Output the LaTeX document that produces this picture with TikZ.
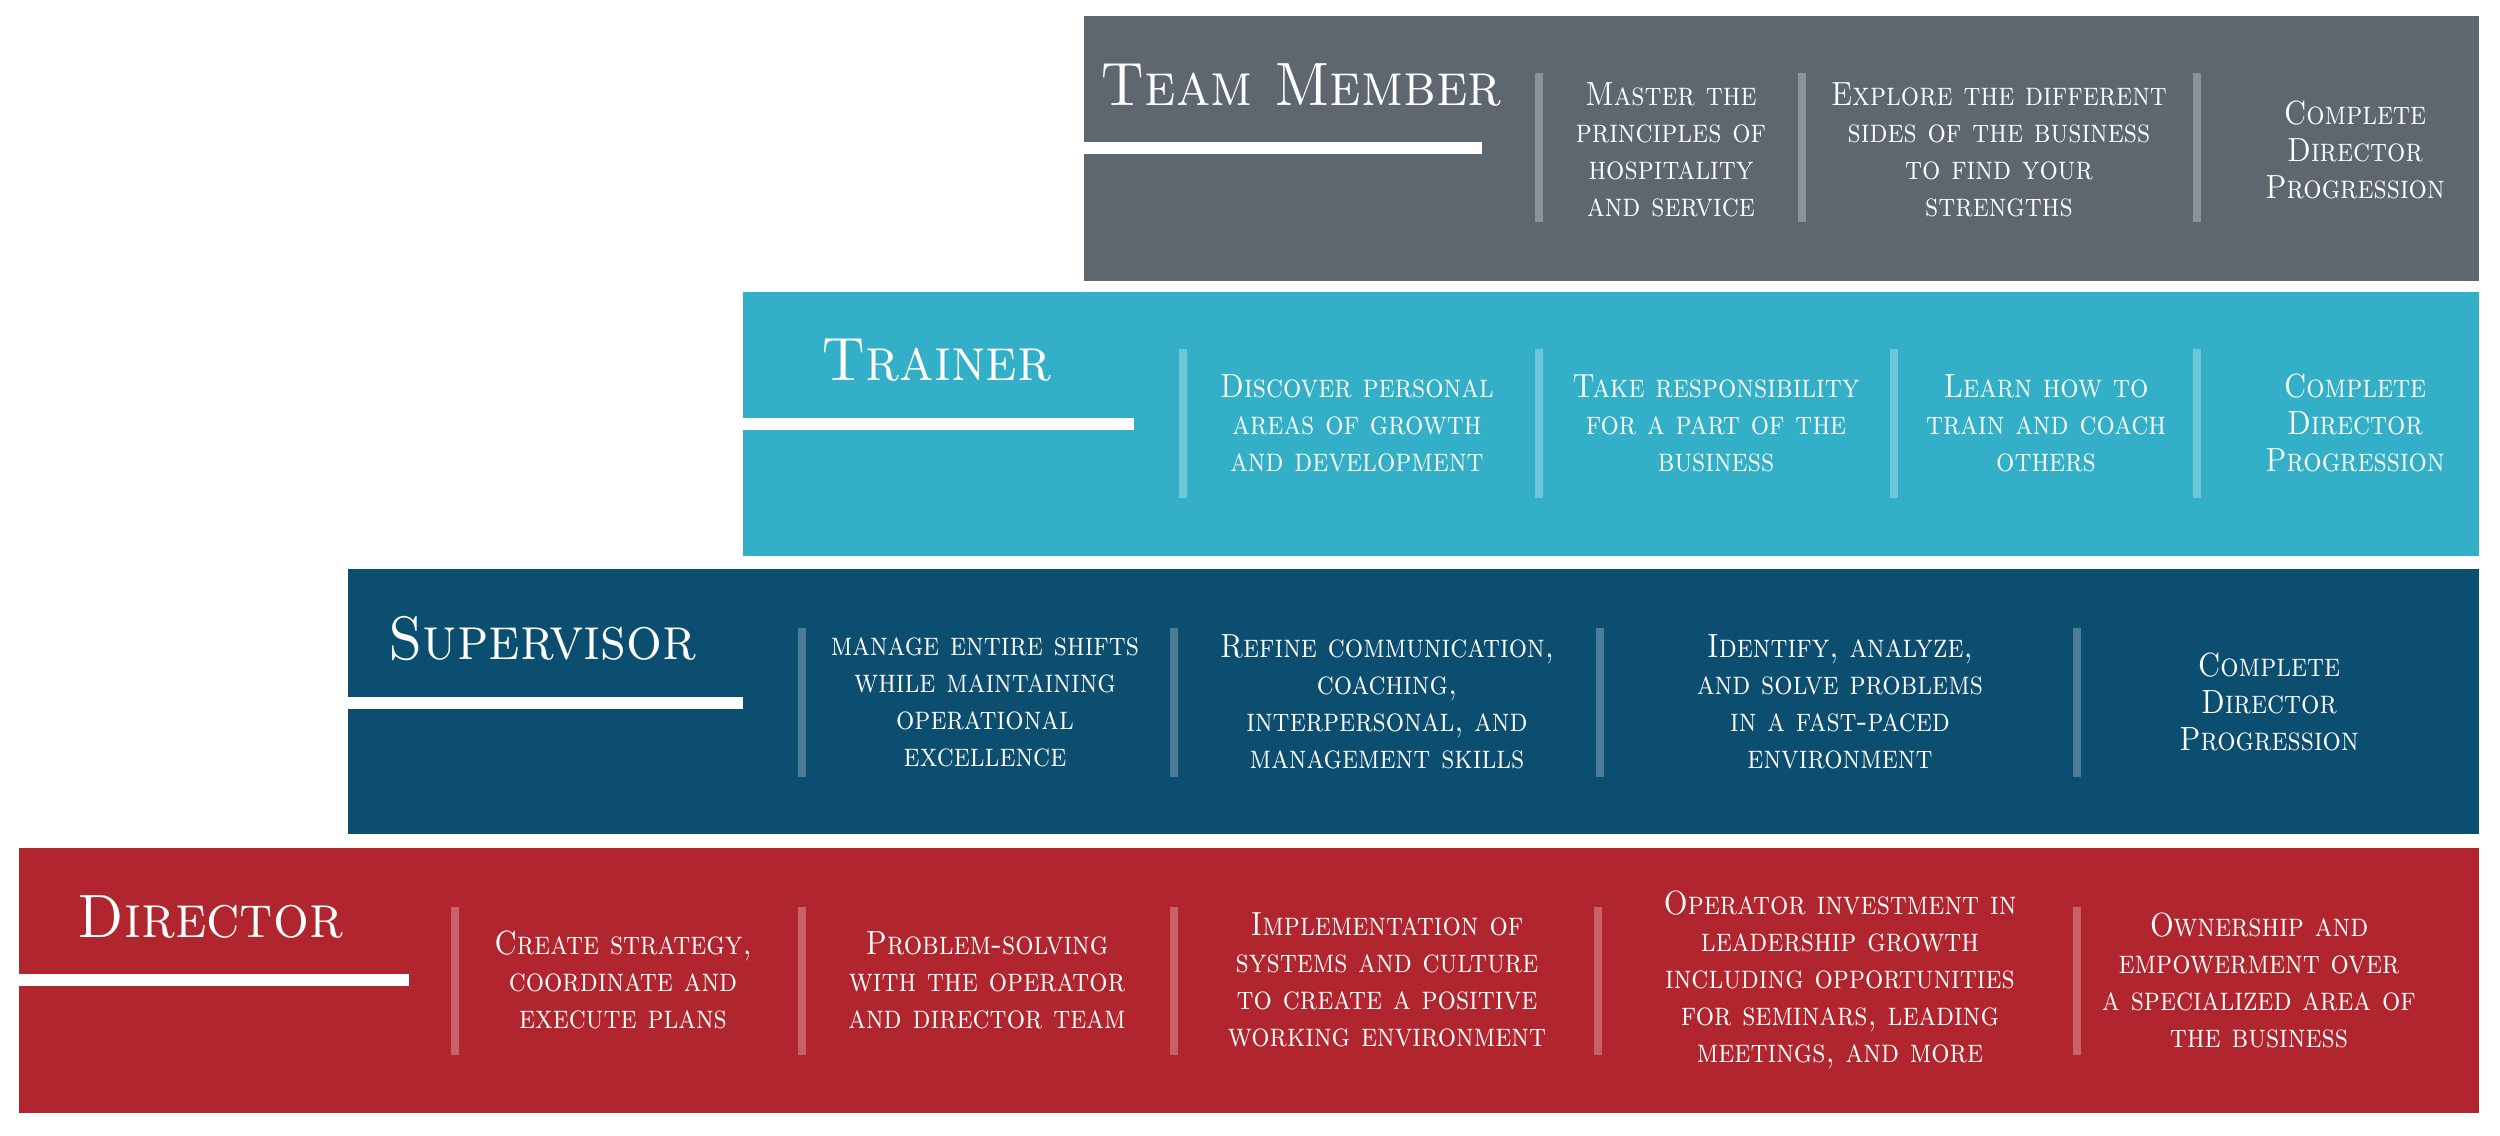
\documentclass[tikz,border=0pt]{standalone}
\usepackage{fontspec}
\newfontfamily\bodysc{lmromancaps10-regular.otf}[FakeStretch=0.86]
\newfontfamily\titlesc{lmromancaps10-regular.otf}[FakeStretch=0.92]
\definecolor{tmc}{RGB}{94,102,112}
\definecolor{tmsep}{RGB}{139,146,154}
\definecolor{trc}{RGB}{51,175,200}
\definecolor{trsep}{RGB}{110,198,216}
\definecolor{svc}{RGB}{12,78,112}
\definecolor{svsep}{RGB}{76,124,150}
\definecolor{drc}{RGB}{177,38,46}
\definecolor{drsep}{RGB}{200,98,104}
\begin{document}
\begin{tikzpicture}[x=0.4pt,y=-0.4pt,
  ttl/.style={anchor=base west, inner sep=0pt, text=white, font=\titlesc\fontsize{24.5}{28}\selectfont},
  txt/.style={anchor=center, align=center, inner sep=0pt, text=white, font=\bodysc\fontsize{13.4}{14.8}\selectfont},
  sepbar/.style={line width=3.2pt}]
\useasboundingbox (0,0) rectangle (2500,1135);
% boxes
\fill[tmc] (1084,16) rectangle (2479,281);
\fill[trc] (743,292) rectangle (2479,556);
\fill[svc] (348,569) rectangle (2479,834);
\fill[drc] (19,848) rectangle (2479,1113);
% white bars
\fill[white] (1084,142) rectangle (1482,154);
\fill[white] (743,418) rectangle (1134,430);
\fill[white] (348,697) rectangle (743,709);
\fill[white] (19,974) rectangle (409,986);
% titles
\node[ttl] (tmt) at (1100,105) {Team Member};
\node[ttl] (trt) at (821,380) {Trainer};
\node[ttl] (svt) at (388,659) {Supervisor};
\node[ttl] (drt) at (77,937) {Director};
% separators
\foreach \x in {1539,1802,2197} \draw[sepbar,tmsep] (\x,73) -- (\x,222);
\foreach \x in {1183,1539,1894,2197} \draw[sepbar,trsep] (\x,349) -- (\x,498);
\foreach \x in {802,1174,1600,2077} \draw[sepbar,svsep] (\x,628) -- (\x,777);
\foreach \x in {455,802,1174,1598,2077} \draw[sepbar,drsep] (\x,907) -- (\x,1055);
% team member texts
\node[txt] (tm1) at (1671,150) {Master the\\principles of\\hospitality\\and service};
\node[txt] (tm2) at (1999,150) {Explore the different\\sides of the business\\to find your\\strengths};
\node[txt] (tm3) at (2355,150) {Complete\\Director\\Progression};
% trainer texts
\node[txt] (tr1) at (1357,423) {Discover personal\\areas of growth\\and development};
\node[txt] (tr2) at (1716,423) {Take responsibility\\for a part of the\\business};
\node[txt] (tr3) at (2046,423) {Learn how to\\train and coach\\others};
\node[txt] (tr4) at (2355,423) {Complete\\Director\\Progression};
% supervisor texts
\node[txt] (sv1) at (985,702) {manage entire shifts\\while maintaining\\operational\\excellence};
\node[txt] (sv2) at (1387,702) {Refine communication,\\coaching,\\interpersonal, and\\management skills};
\node[txt] (sv3) at (1840,702) {Identify, analyze,\\and solve problems\\in a fast-paced\\environment};
\node[txt] (sv4) at (2269,702) {Complete\\Director\\Progression};
% director texts
\node[txt] (dr1) at (623,980) {Create strategy,\\coordinate and\\execute plans};
\node[txt] (dr2) at (987,980) {Problem-solving\\with the operator\\and director team};
\node[txt] (dr3) at (1387,980) {Implementation of\\systems and culture\\to create a positive\\working environment};
\node[txt] (dr4) at (1840,980) {Operator investment in\\leadership growth\\including opportunities\\for seminars, leading\\meetings, and more};
\node[txt] (dr5) at (2259,980) {Ownership and\\empowerment over\\a specialized area of\\the business};
\end{tikzpicture}
\end{document}
